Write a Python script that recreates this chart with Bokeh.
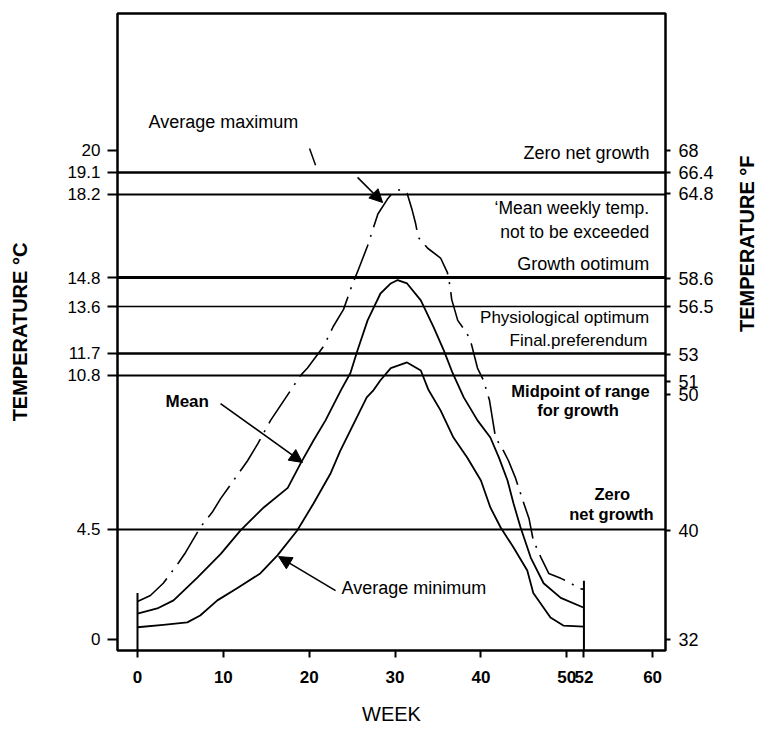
import math
from bokeh.plotting import figure
from bokeh.models import Range1d, LinearAxis, FixedTicker, Label, Arrow, NormalHead
from bokeh.embed import file_html
from bokeh.resources import INLINE

# ---------------- data ----------------
weeks_max = [0, 1.5, 3, 4.8, 5.6, 7.3, 8.7, 9.7, 12.8, 14, 15.5, 19, 19.8, 21.7, 22.8, 24, 25, 25.7,
             26.8, 28, 29.1, 29.8, 30.6, 31.4, 32, 32.4, 32.7, 33.8, 35.3, 36.1, 36.4, 36.6, 37.3,
             38.4, 38.9, 39.6, 40.3, 41, 41.7, 42.6, 43.2, 44, 45, 45.6, 46.1, 47, 47.9, 49.3,
             50.4, 51.3, 52]
temp_max = [1.55, 1.8, 2.3, 3.15, 3.56, 4.58, 5.2, 5.77, 7.3, 8.0, 8.96, 10.8, 11.1, 12.0, 12.8,
            13.5, 14.5, 15.1, 16.1, 17.4, 18.0, 18.3, 18.4, 18.25, 17.55, 17.0, 16.45, 16.0, 15.6,
            15.0, 14.45, 13.9, 13.05, 12.5, 12.07, 11.1, 10.6, 9.78, 8.26, 7.73, 7.32, 6.63, 5.56,
            4.95, 4.05, 3.35, 2.7, 2.5, 2.33, 2.09, 2.05]

weeks_mean = [0, 2.3, 4.2, 7, 9.7, 12, 14.7, 17.5, 19, 20.5, 21.9, 23.7, 24.8, 25.6, 26.8, 28.3,
              29.5, 30.3, 31.4, 33, 34.5, 35.7, 36.7, 38, 39.6, 41.1, 42.1, 43.1, 43.8, 44.6,
              45.8, 47.3, 49.3, 52]
temp_mean = [1.06, 1.27, 1.6, 2.54, 3.5, 4.46, 5.4, 6.2, 7.2, 8.14, 8.96, 10.2, 10.9, 11.8, 13.05,
             14.15, 14.56, 14.7, 14.56, 13.87, 12.76, 11.8, 10.9, 9.9, 8.96, 8.26, 7.44, 6.5, 5.56,
             4.6, 3.35, 2.3, 1.7, 1.3]

weeks_min = [0, 3, 5.8, 7.3, 9.3, 11.6, 14.3, 16.3, 18.6, 20.5, 22.5, 23.6, 26.7, 27.5, 28.3, 29.5,
             31.4, 33, 33.9, 35.3, 36.8, 38.4, 40, 41.1, 42.3, 43.8, 45.4, 46.1, 48.1, 49.6, 52]
temp_min = [0.5, 0.6, 0.7, 0.98, 1.6, 2.1, 2.7, 3.44, 4.46, 5.56, 6.8, 7.7, 9.9, 10.2, 10.6, 11.1,
            11.33, 11.0, 10.2, 9.37, 8.26, 7.44, 6.5, 5.4, 4.58, 3.76, 2.82, 1.9, 0.9, 0.57, 0.53]

# threshold lines (deg C)
thresholds_c = [19.1, 18.2, 14.8, 13.6, 11.7, 10.8, 4.5]

# tick labels
left_ticks = [0, 4.5, 10.8, 11.7, 13.6, 14.8, 18.2, 19.1, 20]
left_labels = ["0", "4.5", "10.8", "11.7", "13.6", "14.8", "18.2", "19.1", "20"]
right_ticks = [32, 40, 50, 51, 53, 56.5, 58.6, 64.8, 66.4, 68]
right_labels = ["32", "40", "50", "51", "53", "56.5", "58.6", "64.8", "66.4", "68"]
week_ticks = [0, 10, 20, 30, 40, 50, 52, 60]
week_labels = ["0", "10", "20", "30", "40", "50", "52", "60"]

# ---------------- figure ----------------
FONT = "Liberation Sans"
y_lo, y_hi = -0.45, 25.6

p = figure(width=773, height=735, x_range=Range1d(-2.33, 61.5), y_range=Range1d(y_lo, y_hi),
           output_backend="svg", toolbar_location=None,
           min_border_left=117, min_border_right=108, min_border_top=13, min_border_bottom=85)
p.xgrid.visible = False
p.ygrid.visible = False
p.outline_line_color = "black"
p.outline_line_width = 2.5
p.outline_line_alpha = 1.0
p.background_fill_color = "white"
p.border_fill_color = "white"

p.extra_y_ranges = {"fahr": Range1d(y_lo * 1.8 + 32, y_hi * 1.8 + 32)}

def style_axis(ax, size, bold=False):
    ax.major_label_text_font = FONT
    ax.major_label_text_font_size = size
    ax.major_label_text_font_style = "bold" if bold else "normal"
    ax.major_label_text_color = "black"
    ax.major_tick_in = 0
    ax.major_tick_line_width = 2
    ax.major_tick_line_color = "black"
    ax.minor_tick_line_color = None
    ax.axis_line_color = None
    ax.axis_label_text_font = FONT
    ax.axis_label_text_color = "black"

# left axis
ya = p.yaxis[0]
ya.ticker = FixedTicker(ticks=left_ticks)
ya.major_label_overrides = {t: l for t, l in zip(left_ticks, left_labels)}
style_axis(ya, "17px")
ya.major_label_standoff = 7
ya.major_tick_out = 10
ya.axis_label = "TEMPERATURE °C"
ya.axis_label_text_font_style = "bold"
ya.axis_label_text_font_size = "20px"
ya.axis_label_standoff = 33

# bottom axis
xa = p.xaxis[0]
xa.ticker = FixedTicker(ticks=week_ticks)
xa.major_label_overrides = {t: l for t, l in zip(week_ticks, week_labels)}
style_axis(xa, "17px", bold=True)
xa.major_label_standoff = 13
xa.major_tick_out = 7
xa.axis_label = "WEEK"
xa.axis_label_text_font_style = "normal"
xa.axis_label_text_font_size = "20px"
xa.axis_label_standoff = 17

# right axis (deg F)
ra = LinearAxis(y_range_name="fahr", ticker=FixedTicker(ticks=right_ticks))
ra.major_label_overrides = {t: l for t, l in zip(right_ticks, right_labels)}
style_axis(ra, "18px")
ra.major_label_standoff = 8
ra.major_tick_out = 5
ra.axis_label = "TEMPERATURE °F"
ra.axis_label_text_font_style = "bold"
ra.axis_label_text_font_size = "20px"
ra.axis_label_standoff = 30
if "axis_label_orientation" in ra.properties():
    ra.axis_label_orientation = math.pi / 2
p.add_layout(ra, "right")

# threshold lines
p.hspan(y=thresholds_c, line_color="black", line_width=[2.5, 1.8, 3, 1.6, 2.5, 2, 2])

# vertical end markers at first and last week
p.segment(x0=[weeks_min[0], weeks_min[-1]], y0=[y_lo, y_lo],
          x1=[weeks_max[0], weeks_max[-1]], y1=[temp_max[0] + 0.35, temp_max[-1] + 0.35],
          line_color="black", line_width=2)

# curves
p.line(weeks_max, temp_max, line_color="black", line_width=1.6, line_dash="38 8 2 8",
       line_join="round")
p.line(weeks_mean, temp_mean, line_color="black", line_width=1.8, line_join="round")
p.line(weeks_min, temp_min, line_color="black", line_width=1.8, line_join="round")

# annotations
def lab(x, y, text, align="left", size="17.5px", style="normal"):
    p.add_layout(Label(x=x, y=y, text=text, text_align=align, text_baseline="middle",
                       text_font=FONT, text_font_size=size, text_font_style=style,
                       text_color="black"))

lab(1.28, 21.15, "Average maximum", size="18px")
lab(59.65, 19.88, "Zero net growth", align="right", size="18px")
lab(59.6, 17.63, "‘Mean weekly temp.", align="right")
lab(59.6, 16.65, "not to be exceeded", align="right")
lab(59.6, 15.34, "Growth ootimum", align="right", size="18px")
lab(59.6, 13.17, "Physiological optimum", align="right", size="17px")
lab(59.4, 12.23, "Final.preferendum", align="right", size="17px")
lab(51.6, 10.18, "Midpoint of range", align="center", size="16.5px", style="bold")
lab(51.3, 9.37, "for growth", align="center", size="16.5px", style="bold")
lab(55.3, 5.97, "Zero", align="center", size="16.5px", style="bold")
lab(55.2, 5.15, "net growth", align="center", size="16.5px", style="bold")
lab(3.26, 9.73, "Mean", size="17px", style="bold")
lab(23.77, 2.09, "Average minimum", size="18px")

def arrow(x0, y0, x1, y1):
    p.add_layout(Arrow(end=NormalHead(size=13, fill_color="black", line_color="black"),
                       x_start=x0, y_start=y0, x_end=x1, y_end=y1,
                       line_color="black", line_width=1.6))

arrow(9.67, 9.65, 19.22, 7.24)
arrow(23.07, 2.0, 16.43, 3.39)
arrow(25.63, 18.9, 28.55, 17.87)
p.segment(x0=[20.04], y0=[20.08], x1=[20.74], y1=[19.39], line_color="black", line_width=1.5)

open("out.html", "w").write(file_html(p, INLINE))
